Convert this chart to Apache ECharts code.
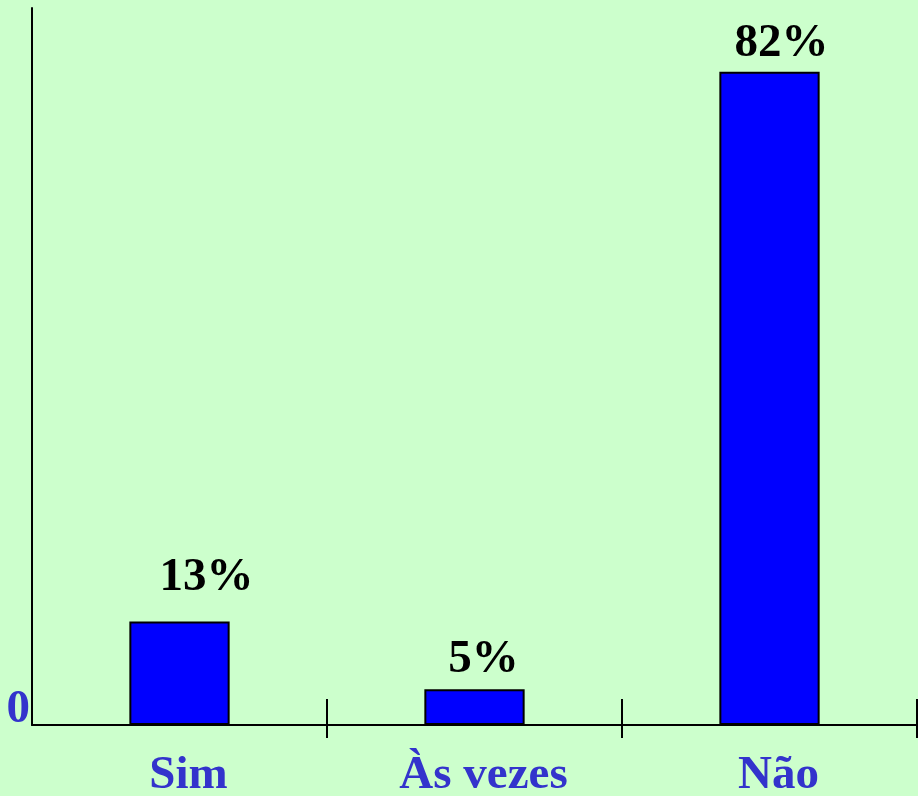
<!DOCTYPE html>
<html>
<head>
<meta charset="utf-8">
<script src="https://cdn.jsdelivr.net/npm/echarts@6/dist/echarts.min.js"></script>
<style>
html,body{margin:0;padding:0;background:#CCFFCC;}
#chart{width:918px;height:796px;}
</style>
</head>
<body>
<div id="chart"></div>
<script>
var categories = ['Sim', 'Às vezes', 'Não'];
var values = [13, 4.5, 82];
var valueLabels = ['13%', '5%', '82%'];
var yTickLabels = ['0'];

var labelOffsets = [[27, -14], [9, 0], [12, 2]];
var serif = '"Liberation Serif", "DejaVu Serif", serif';

var chart = echarts.init(document.getElementById('chart'));
chart.setOption({
  backgroundColor: '#CCFFCC',
  animation: false,
  grid: { left: 32, right: 1, top: 8, bottom: 71, containLabel: false, outerBoundsMode: 'none' },
  xAxis: [{
    type: 'category',
    data: categories,
    position: 'bottom',
    axisLine: { show: true, lineStyle: { color: '#000', width: 2 } },
    axisTick: { show: true, length: 13, interval: function (i) { return i !== 0; }, lineStyle: { color: '#000', width: 2 } },
    axisLabel: { color: '#3333CC', fontFamily: serif, fontWeight: 'bold', fontSize: 47, margin: 27, padding: [0, 0, 0, 18] },
    splitLine: { show: false }
  }, {
    type: 'category',
    data: categories,
    position: 'bottom',
    gridIndex: 0,
    axisLine: { show: false },
    axisTick: { show: true, inside: true, length: 26, interval: function (i) { return i !== 0; }, lineStyle: { color: '#000', width: 2 } },
    axisLabel: { show: false },
    splitLine: { show: false }
  }],
  yAxis: {
    type: 'value',
    min: 0,
    max: 90,
    interval: 90,
    axisLine: { show: true, lineStyle: { color: '#000', width: 2 } },
    axisTick: { show: false },
    splitLine: { show: false },
    axisLabel: {
      color: '#3333CC', fontFamily: serif, fontWeight: 'bold', fontSize: 47, margin: 2,
      verticalAlign: 'bottom', lineHeight: 30,
      formatter: function (v) { return v === 0 ? yTickLabels[0] : ''; }
    }
  },
  series: [{
    type: 'bar',
    xAxisIndex: 0,
    barWidth: '34%',
    data: values.map(function (v, i) {
      return {
        value: v,
        label: { offset: labelOffsets[i] }
      };
    }),
    itemStyle: { color: '#0000FF', borderColor: '#000', borderWidth: 2 },
    label: {
      show: true,
      position: 'top',
      distance: 6,
      color: '#000',
      fontFamily: serif,
      fontWeight: 'bold',
      fontSize: 47,
      formatter: function (p) { return valueLabels[p.dataIndex]; }
    }
  }]
});
</script>
</body>
</html>
